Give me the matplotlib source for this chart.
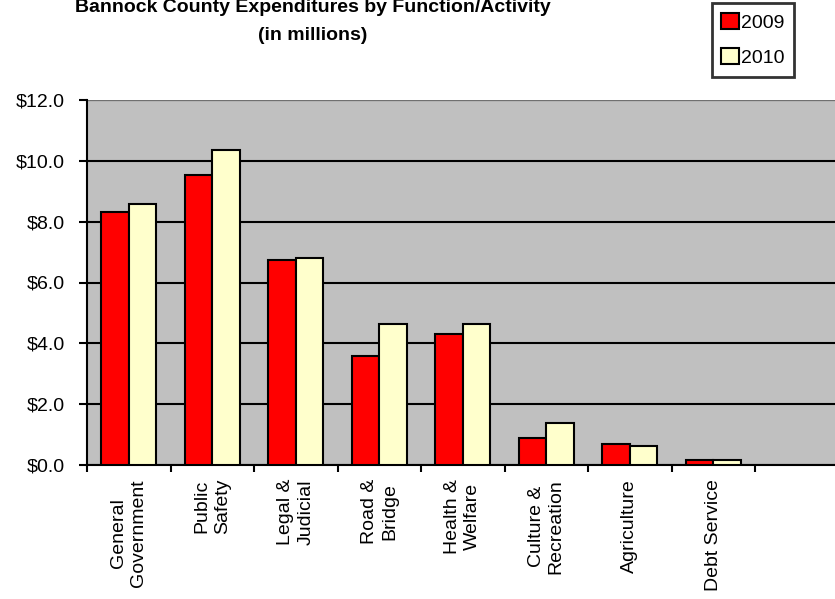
import numpy as np
import matplotlib
matplotlib.use('Agg')
import matplotlib.pyplot as plt
from matplotlib.patches import Patch

plt.rcParams['font.family'] = ['Liberation Sans', 'DejaVu Sans']

categories = ['General\nGovernment', 'Public\nSafety', 'Legal &\nJudicial', 'Road &\nBridge',
              'Health &\nWelfare', 'Culture &\nRecreation', 'Agriculture', 'Debt Service']
y2009 = [8.33, 9.54, 6.74, 3.59, 4.30, 0.88, 0.69, 0.16]
y2010 = [8.57, 10.34, 6.82, 4.63, 4.64, 1.39, 0.62, 0.16]
yticks = [0, 2, 4, 6, 8, 10, 12]
ytick_labels = ['$0.0', '$2.0', '$4.0', '$6.0', '$8.0', '$10.0', '$12.0']
n_slots = 9  # last slot is empty in the original

fig = plt.figure(figsize=(8.35, 5.99), dpi=100)
ax = fig.add_axes([87/835, 1 - 465/599, (n_slots * 83.5)/835, 365/599])
ax.set_facecolor('#c0c0c0')

x = np.arange(len(categories))
w = 0.33
ax.bar(x - w/2, y2009, w, color='#ff0000', edgecolor='black', linewidth=1.5, zorder=3)
ax.bar(x + w/2, y2010, w, color='#ffffcc', edgecolor='black', linewidth=1.5, zorder=3)

ax.set_xlim(-0.5, n_slots - 0.5)
ax.set_ylim(0, 12)
ax.set_yticks(yticks)
ax.set_yticklabels(ytick_labels, fontsize=14)
ax.yaxis.grid(True, color='black', linewidth=1.5, zorder=1)
ax.set_axisbelow(True)

ax.set_xticks(x)
ax.set_xticklabels(categories, rotation=90, fontsize=14, ha='center', va='top',
                   multialignment='center', linespacing=1.25)
ax.tick_params(axis='x', length=0, pad=10)
ax.set_xticks(np.arange(-0.5, n_slots, 1), minor=True)
ax.tick_params(axis='x', which='minor', length=5, width=1.5, direction='out')
ax.tick_params(axis='y', length=6, width=1.5, direction='out', pad=10)

for s in ['top', 'right']:
    ax.spines[s].set_visible(False)
ax.spines['left'].set_linewidth(1.5)
ax.spines['bottom'].set_linewidth(1.5)
ax.axhline(12, color='#707070', linewidth=1.5, zorder=2)

fig.text(313/835, 1 - 8/599, 'Bannock County Expenditures by Function/Activity',
         ha='center', va='center', fontsize=14, fontweight='bold')
fig.text(313/835, 1 - 36/599, '(in millions)', ha='center', va='center',
         fontsize=14, fontweight='bold')

handles = [Patch(facecolor='#ff0000', edgecolor='black', linewidth=1.5, label='2009'),
           Patch(facecolor='#ffffcc', edgecolor='black', linewidth=1.5, label='2010')]
leg = fig.legend(handles=handles, loc='upper right', bbox_to_anchor=(794/835, 1 - 3/599),
                 fontsize=14, frameon=True, fancybox=False, handlelength=0.9,
                 handleheight=0.9, handletextpad=0.1, labelspacing=0.85,
                 borderpad=0.5, borderaxespad=0)
leg.get_frame().set_edgecolor('black')
leg.get_frame().set_linewidth(2)

fig.savefig('out.png', dpi=100)
